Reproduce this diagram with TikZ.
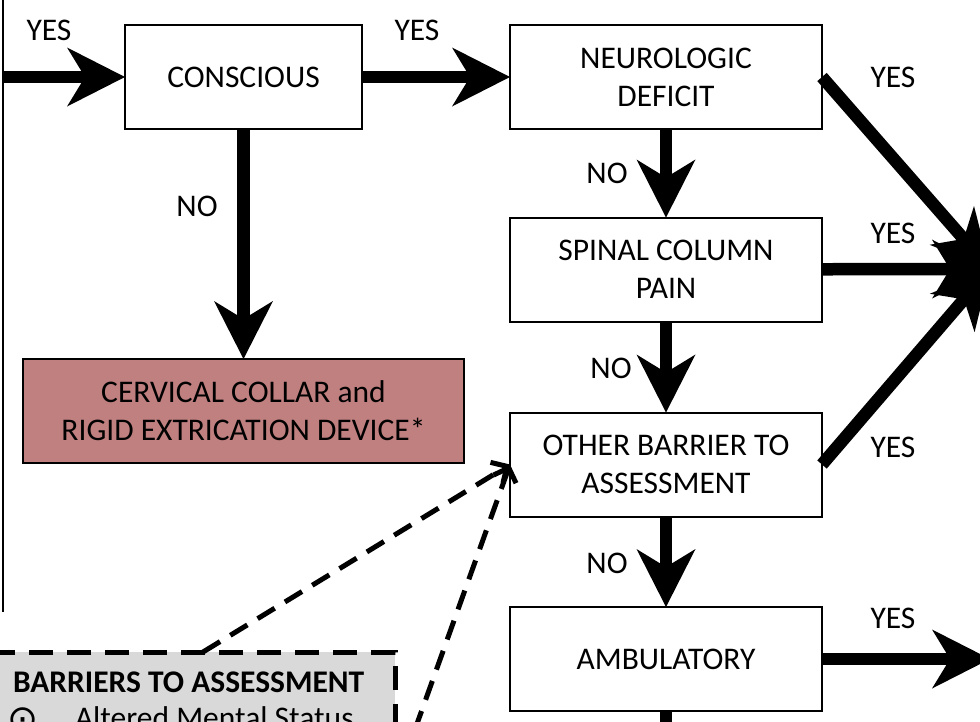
\documentclass[tikz,border=0pt]{standalone}
\usepackage{fontspec}
\setmainfont{Carlito}
\newfontfamily\symfont{DejaVu Sans}
\usetikzlibrary{arrows.meta}
\definecolor{collarfill}{RGB}{192,128,128}
\definecolor{barrierfill}{RGB}{217,217,217}

\begin{document}
\begin{tikzpicture}[x=1pt, y=-1pt, line width=2pt, font={\fontsize{31.5pt}{38pt}\selectfont}, line join=miter,
	box/.style={draw, rectangle, inner sep=0pt, outer sep=0pt, align=center, minimum height=104pt},
	flow/.style={line width=12.5pt, -{Stealth[length=58pt, width=59pt, inset=18pt, line width=0pt]}},
	hint/.style={line width=5pt, dash pattern=on 20pt off 12pt, -{Straight Barb[length=12pt, width=24pt]}},
	plain/.style={inner sep=0pt}]
		\useasboundingbox (0,0) rectangle (980,721);
		\clip (0,0) rectangle (980,721);
		\draw (3,0) -- (3,612);
		\node[box, minimum width=237pt] (conscious) at (243.5,77) {CONSCIOUS};
		\node[box, minimum width=312pt] (neuro) at (666,77) {NEUROLOGIC\\DEFICIT};
		\node[box, minimum width=312pt] (spinal) at (666,269.5) {SPINAL COLUMN\\PAIN};
		\node[box, minimum width=312pt] (other) at (666,464.5) {OTHER BARRIER TO\\ASSESSMENT};
		\node[box, minimum width=312pt] (ambul) at (666,659) {AMBULATORY};
		\node[box, minimum width=441pt, fill=collarfill] (collar) at (243.5,411) {CERVICAL COLLAR and\\RIGID EXTRICATION DEVICE*};
		\node[draw, fill=barrierfill, line width=5pt, dash pattern=on 24pt off 14pt, outer sep=0pt,
			minimum width=420pt, minimum height=150pt, anchor=north east] (barriers) at (395,652) {};
		\node[plain, anchor=base west, font={\fontsize{31.5pt}{38pt}\selectfont\bfseries}] (barrierhead) at (12,692) {BARRIERS TO ASSESSMENT};
		\node[plain, font={\fontsize{37pt}{40pt}\symfont}] (bullet1) at (23.5,719.5) {⊙};
		\node[plain, anchor=base west] (item1) at (74,728) {Altered Mental Status};
		\coordinate (entry) at (3,77);
		\coordinate (immob) at (990,269);
		\coordinate (ambulexit) at (990,659);
		\coordinate (ambulfoot) at (666,790);
		\coordinate (hintfoot) at (404,760);
		\draw[flow] (entry) -- (conscious);
		\draw[flow] (conscious) -- (neuro);
		\draw[flow] (conscious) -- (collar);
		\draw[flow] (neuro) -- (spinal);
		\draw[flow] (spinal) -- (other);
		\draw[flow] (other) -- (ambul);
		\draw[flow] (ambul) -- (ambulfoot);
		\draw[flow] (neuro.east) -- (immob);
		\draw[flow] (spinal) -- (immob);
		\draw[flow] (other.east) -- (immob);
		\draw[flow] (ambul) -- (ambulexit);
		\draw[hint] ([xshift=18pt]barriers.north) -- (other.west);
		\draw[hint] (hintfoot) -- (other.west);
		\node (yesentry) at (49,30) {YES};
		\node (yesneuro) at (417,30) {YES};
		\node (nocollar) at (197,206) {NO};
		\node (nospinal) at (607,173) {NO};
		\node (noother) at (611,368) {NO};
		\node (noambul) at (607,563) {NO};
		\node (yesdeficit) at (893,77) {YES};
		\node (yespain) at (893,233) {YES};
		\node (yesbarrier) at (893,447) {YES};
		\node (yesambul) at (893,618) {YES};
\end{tikzpicture}
\end{document}
